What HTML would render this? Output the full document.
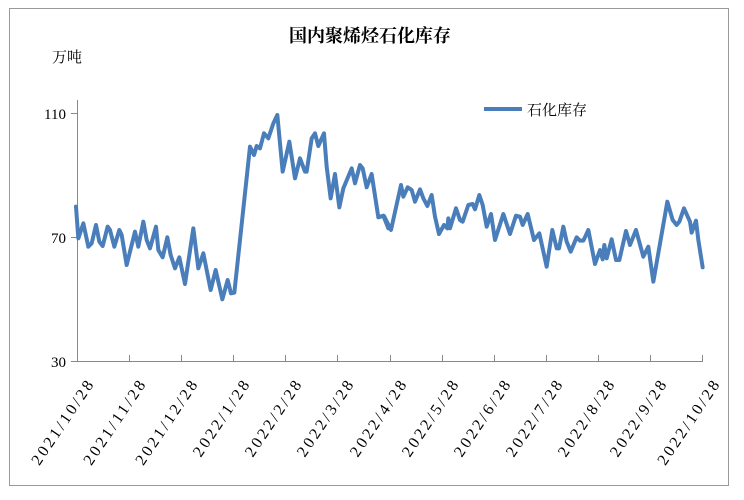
<!DOCTYPE html>
<html><head><meta charset="utf-8"><style>
body{margin:0;background:#fff}
text{font-family:"Liberation Serif","Noto Serif CJK SC",serif;fill:#000}
</style></head><body>
<svg width="744" height="495" viewBox="0 0 744 495" xmlns="http://www.w3.org/2000/svg">
<rect x="9.5" y="8.5" width="719" height="477" fill="#fff" stroke="#999" stroke-width="1"/>
<text x="370" y="42" font-size="18" font-weight="bold" text-anchor="middle">国内聚烯烃石化库存</text>
<text x="52" y="62" font-size="15">万吨</text>
<g stroke="#888" stroke-width="1" fill="none">
<line x1="77.5" y1="100" x2="77.5" y2="361.5"/>
<line x1="77" y1="361.5" x2="703" y2="361.5"/>
<line x1="71" y1="113.5" x2="77" y2="113.5"/>
<line x1="71" y1="237.5" x2="77" y2="237.5"/>
<line x1="71" y1="361.5" x2="77" y2="361.5"/>
<path d="M129.5 361v-6M181.5 361v-6M233.5 361v-6M285.5 361v-6M337.5 361v-6M390.5 361v-6M442.5 361v-6M494.5 361v-6M546.5 361v-6M598.5 361v-6M650.5 361v-6M702.5 361v-6"/>
</g>
<g font-size="15" text-anchor="end">
<text x="66" y="119">110</text><text x="66" y="243">70</text><text x="66" y="367">30</text>
</g>
<g font-size="16" text-anchor="end">
<text transform="translate(94,385) rotate(-56)" textLength="98" lengthAdjust="spacing">2021/10/28</text>
<text transform="translate(146,385) rotate(-56)" textLength="98" lengthAdjust="spacing">2021/11/28</text>
<text transform="translate(198,385) rotate(-56)" textLength="98" lengthAdjust="spacing">2021/12/28</text>
<text transform="translate(250,385) rotate(-56)" textLength="88" lengthAdjust="spacing">2022/1/28</text>
<text transform="translate(302,385) rotate(-56)" textLength="88" lengthAdjust="spacing">2022/2/28</text>
<text transform="translate(354,385) rotate(-56)" textLength="88" lengthAdjust="spacing">2022/3/28</text>
<text transform="translate(407,385) rotate(-56)" textLength="88" lengthAdjust="spacing">2022/4/28</text>
<text transform="translate(459,385) rotate(-56)" textLength="88" lengthAdjust="spacing">2022/5/28</text>
<text transform="translate(511,385) rotate(-56)" textLength="88" lengthAdjust="spacing">2022/6/28</text>
<text transform="translate(563,385) rotate(-56)" textLength="88" lengthAdjust="spacing">2022/7/28</text>
<text transform="translate(615,385) rotate(-56)" textLength="88" lengthAdjust="spacing">2022/8/28</text>
<text transform="translate(667,385) rotate(-56)" textLength="88" lengthAdjust="spacing">2022/9/28</text>
<text transform="translate(720,385) rotate(-56)" textLength="98" lengthAdjust="spacing">2022/10/28</text>
</g>
<line x1="484" y1="109" x2="522" y2="109" stroke="#4a7ebb" stroke-width="4"/>
<text x="527" y="115" font-size="15">石化库存</text>
<g fill="none" stroke="#4a7ebb" stroke-width="12" stroke-linejoin="round" stroke-linecap="round">
<polyline transform="translate(70,100) scale(0.33333)" points="18,320 25,415 40,370 55,440 65,430 78,375 88,425 98,438 113,380 120,390 133,440 148,390 155,405 170,495 185,435 195,395 205,440 220,365 230,420 240,445 258,380 265,450 278,472 292,412 302,465 315,505 328,472 345,552 370,385 385,505 400,460 422,570 437,510 457,598 473,540 483,580 493,578 540,140 552,165 560,138 570,145 582,100 595,115 610,70 622,45 638,215 658,125 675,235 690,175 705,215 710,215 725,115 735,100 745,138 762,100 770,200 782,295 795,222 808,322 820,265 845,205 855,250 870,195 878,205 890,262 905,222 925,352 940,347 955,385"/>
<polyline transform="translate(380,160) scale(0.33333)" points="0,170 12,168 33,210 63,75 70,110 83,82 95,90 105,125 120,88 130,115 142,138 155,105 165,170 177,222 192,195 202,205 205,175 210,205 228,145 240,180 248,185 265,135 278,132 285,148 298,105 308,135 320,200 333,162 345,240 370,162 390,222 408,167 420,170 428,195 443,162 462,240 478,220 500,320 517,210 530,265 537,265 550,200 560,245 572,275 590,232 600,242 610,242 625,210 645,312 660,270 668,298 673,255 680,295 695,238 708,300 718,300 738,213 750,255 768,210 790,290 805,260 820,365 862,125 878,180 890,195 898,185 912,145 930,185 935,218 948,182 955,240 968,322"/>
</g>
</svg>
</body></html>
